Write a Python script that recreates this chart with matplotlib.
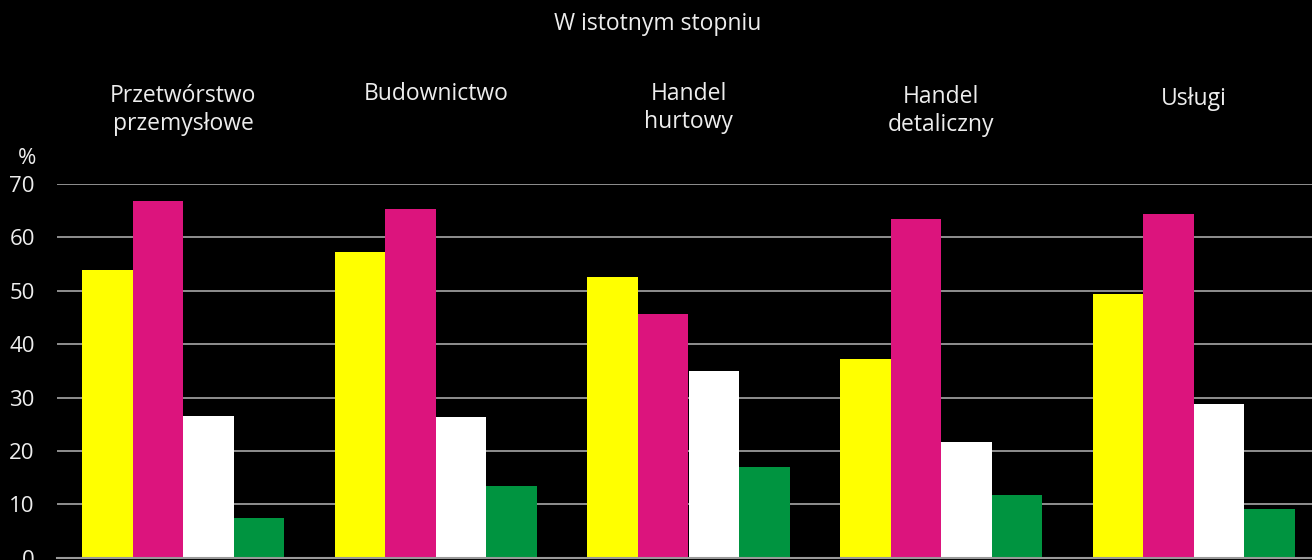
import matplotlib
matplotlib.use("Agg")
import matplotlib.pyplot as plt
import numpy as np

plt.rcParams['font.family'] = ['Open Sans', 'DejaVu Sans']

title = "W istotnym stopniu"
categories = ["Przetwórstwo\nprzemysłowe", "Budownictwo", "Handel\nhurtowy",
              "Handel\ndetaliczny", "Usługi"]
series_yellow = [53.8, 57.2, 52.6, 37.2, 49.4]
series_magenta = [66.8, 65.3, 45.6, 63.4, 64.3]
series_white = [26.6, 26.3, 35.0, 21.6, 28.8]
series_green = [7.4, 13.4, 17.0, 11.7, 9.1]
yticks = [0, 10, 20, 30, 40, 50, 60, 70]
unit_label = "%"

colors = ["#ffff00", "#dc147d", "#ffffff", "#009440"]
text_color = "#ededed"
grid_color = "#9a9a9a"

W, H = 1312, 560
fig = plt.figure(figsize=(W / 100, H / 100), dpi=100, facecolor="black")

ax_left, ax_right = 57, 1312
ax_top, ax_bottom = 184, 557.7
ax = fig.add_axes([ax_left / W, (H - ax_bottom) / H,
                   (ax_right - ax_left) / W, (ax_bottom - ax_top) / H])
ax.set_facecolor("black")

x = np.arange(len(categories))
bw = 0.2
all_series = [series_yellow, series_magenta, series_white, series_green]
for i, (vals, c) in enumerate(zip(all_series, colors)):
    ax.bar(x + (i - 1.5) * bw, vals, width=bw, color=c, linewidth=0, zorder=3)

ax.set_xlim(-0.5, -0.5 + (ax_right - ax_left) / 252.6)
ax.set_ylim(0, 70)
ax.set_yticks(yticks)
ax.set_yticklabels([str(v) for v in yticks], color=text_color, fontsize=16)
ax.tick_params(axis='y', length=0, pad=16)
ax.set_xticks([])
ax.grid(axis='y', color=grid_color, linewidth=1.3, zorder=0)
ax.set_axisbelow(True)
for s in ax.spines.values():
    s.set_visible(False)
ax.axhline(0, color=grid_color, linewidth=1.5, zorder=4, clip_on=False)

# Title
fig.text(658 / W, 1 - 24 / H, title, ha="center", va="center",
         color=text_color, fontsize=16.5)

# Group labels above the plot
label_tops = [84, 82, 82, 85, 87]
for i, (lab, top) in enumerate(zip(categories, label_tops)):
    xd = ax.transData.transform((x[i], 0))[0]
    fig.text(xd / W, 1 - top / H, lab, ha="center", va="top",
             color=text_color, fontsize=16.5, linespacing=1.2)

# Unit label
fig.text(27 / W, 1 - 159 / H, unit_label, ha="center", va="center",
         color=text_color, fontsize=16)

fig.savefig("out.png", dpi=100, facecolor="black")
